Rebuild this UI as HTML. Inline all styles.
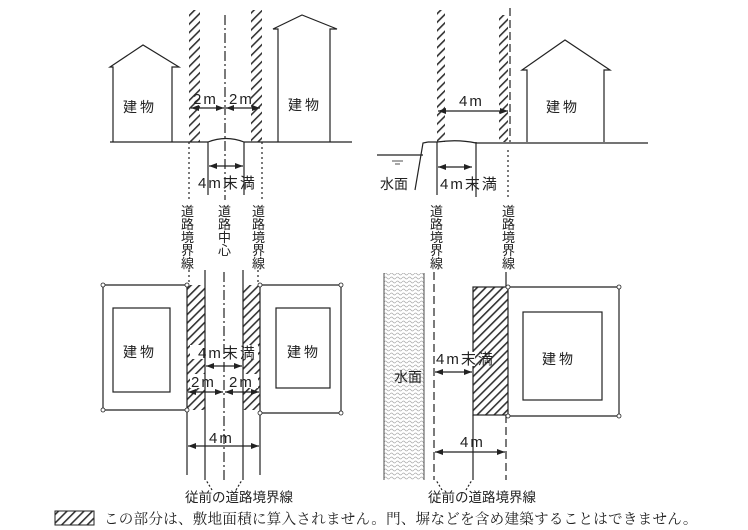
<!DOCTYPE html>
<html><head><meta charset="utf-8"><style>
html,body{margin:0;padding:0;background:#fff;}
svg{display:block;}
text{font-family:"Liberation Sans","Noto Sans CJK JP",sans-serif;fill:#222;}
.d{font-size:15px;letter-spacing:2px;}
</style></head><body>
<svg width="748" height="530" viewBox="0 0 748 530" xmlns="http://www.w3.org/2000/svg">
<defs>
<pattern id="h" patternUnits="userSpaceOnUse" width="6" height="6" patternTransform="rotate(45)">
<rect width="6" height="6" fill="#fff"/><rect width="1.6" height="6" fill="#333"/></pattern>
<pattern id="w" patternUnits="userSpaceOnUse" width="6" height="4">
<rect width="6" height="4" fill="#fff"/><path d="M0 2 Q1.5 0 3 2 T6 2" stroke="#aaa" stroke-width="0.7" fill="none"/></pattern>
<marker id="a" markerWidth="8" markerHeight="6" refX="8" refY="3" orient="auto-start-reverse" markerUnits="userSpaceOnUse"><path d="M0,0 L8,3 L0,6 z" fill="#222"/></marker>
</defs>
<g stroke="#222" stroke-width="1.2" fill="none">
<!-- TOP LEFT -->
<rect x="189" y="10" width="11" height="132" fill="url(#h)" stroke="none"/>
<rect x="251" y="10" width="11" height="132" fill="url(#h)" stroke="none"/>
<line x1="225" y1="15" x2="225" y2="200" stroke-dasharray="10,3,2,3"/>
<path d="M110 142 H208 Q226 135 244 142 H352"/>
<path d="M113 142 V67 H110 L143 45 L179 67 H172 V142"/>
<path d="M278 142 V29 H273 L302 15 L337 29 H330 V142"/>
<line x1="191" y1="108" x2="224" y2="108" marker-start="url(#a)" marker-end="url(#a)"/>
<line x1="226" y1="108" x2="260" y2="108" marker-start="url(#a)" marker-end="url(#a)"/>
<line x1="208" y1="142" x2="208" y2="195"/><line x1="244" y1="142" x2="244" y2="195"/>
<line x1="209" y1="166" x2="243" y2="166" marker-start="url(#a)" marker-end="url(#a)"/>
<line x1="189" y1="142" x2="189" y2="200" stroke-dasharray="2,3"/>
<line x1="262" y1="142" x2="262" y2="200" stroke-dasharray="2,3"/>
<!-- TOP RIGHT -->
<rect x="437" y="10" width="8" height="132" fill="url(#h)" stroke="none"/>
<rect x="499" y="15" width="9" height="127" fill="url(#h)" stroke="none"/>
<line x1="510" y1="8" x2="510" y2="142" stroke-dasharray="8,4"/>
<line x1="508" y1="150" x2="508" y2="200" stroke-dasharray="2,3"/>
<path d="M428 142 H437 Q458 139 476 143 H648"/>
<path d="M428 142 L423 143 L415 190"/>
<line x1="377" y1="155" x2="423" y2="155"/>
<line x1="392" y1="161" x2="403" y2="161" stroke-width="0.8"/><line x1="395" y1="164" x2="400" y2="164" stroke-width="0.8"/>
<line x1="437" y1="142" x2="437" y2="195"/><line x1="476" y1="142" x2="476" y2="197"/>
<line x1="438" y1="111" x2="508" y2="111" marker-start="url(#a)" marker-end="url(#a)"/>
<line x1="438" y1="167" x2="472" y2="167" marker-start="url(#a)" marker-end="url(#a)"/>
<path d="M527 142 V70 H522 L565 40 L610 70 H604 V142"/>
<!-- BOTTOM LEFT -->
<rect x="187" y="285" width="18" height="125" fill="url(#h)" stroke="none"/>
<rect x="243" y="285" width="17" height="125" fill="url(#h)" stroke="none"/>
<rect x="190" y="345" width="68" height="14" fill="#fff" stroke="none"/>
<rect x="190" y="374" width="68" height="14" fill="#fff" stroke="none"/>
<path d="M187 285 H103 V410 H187"/>
<rect x="113" y="308" width="57" height="84"/>
<path d="M260 285 H341 V413 H260"/>
<rect x="276" y="308" width="54" height="80"/>
<line x1="205" y1="270" x2="205" y2="480"/><line x1="243" y1="270" x2="243" y2="480"/>
<line x1="224" y1="272" x2="224" y2="480" stroke-dasharray="10,3,2,3"/>
<line x1="187" y1="285" x2="187" y2="475"/><line x1="260" y1="285" x2="260" y2="475"/>
<line x1="189" y1="270" x2="189" y2="283" stroke-dasharray="2,3"/><line x1="258" y1="270" x2="258" y2="283" stroke-dasharray="2,3"/>
<line x1="206" y1="366" x2="242" y2="366" marker-start="url(#a)" marker-end="url(#a)"/>
<line x1="188" y1="392" x2="223" y2="392" marker-start="url(#a)" marker-end="url(#a)"/>
<line x1="225" y1="392" x2="259" y2="392" marker-start="url(#a)" marker-end="url(#a)"/>
<line x1="188" y1="446" x2="259" y2="446" marker-start="url(#a)" marker-end="url(#a)"/>
<path d="M212 490 L206 480" stroke-dasharray="2,2"/><path d="M236 490 L242 480" stroke-dasharray="2,2"/>
<!-- BOTTOM RIGHT -->
<rect x="384" y="273" width="40" height="207" fill="url(#w)" stroke="none"/>
<line x1="384" y1="273" x2="384" y2="480" stroke-width="0.8"/><line x1="424" y1="273" x2="424" y2="480" stroke-width="0.8"/>
<line x1="434" y1="272" x2="434" y2="480" stroke-dasharray="8,4"/>
<rect x="473" y="287" width="35" height="128" fill="url(#h)"/>
<rect x="437" y="352" width="38" height="14" fill="#fff" stroke="none"/>
<path d="M508 287 H619 V416 H508"/>
<rect x="523" y="312" width="79" height="88"/>
<line x1="473" y1="415" x2="473" y2="480"/>
<line x1="506" y1="415" x2="506" y2="480" stroke-dasharray="8,4"/>
<line x1="506" y1="272" x2="506" y2="287"/>
<line x1="435" y1="372" x2="472" y2="372" marker-start="url(#a)" marker-end="url(#a)"/>
<line x1="435" y1="452" x2="505" y2="452" marker-start="url(#a)" marker-end="url(#a)"/>
<path d="M442 490 L436 480" stroke-dasharray="2,2"/><path d="M466 490 L472 480" stroke-dasharray="2,2"/>
</g>
<g fill="#fff" stroke="#222" stroke-width="0.8">
<circle cx="103" cy="285" r="2"/><circle cx="187" cy="285" r="2"/><circle cx="103" cy="410" r="2"/><circle cx="187" cy="410" r="2"/>
<circle cx="260" cy="285" r="2"/><circle cx="341" cy="285" r="2"/><circle cx="260" cy="413" r="2"/><circle cx="341" cy="413" r="2"/>
<circle cx="508" cy="287" r="2"/><circle cx="619" cy="287" r="2"/><circle cx="508" cy="416" r="2"/><circle cx="619" cy="416" r="2"/>
</g>
<g font-size="14">
<text x="123" y="112" letter-spacing="3">建物</text><text x="288" y="110" letter-spacing="3">建物</text>
<text x="193" y="104" class="d">2m</text><text x="229" y="104" class="d">2m</text>
<text x="198" y="188" class="d" letter-spacing="1">4m末満</text>
<text x="459" y="106" class="d">4m</text>
<text x="440" y="189" class="d" letter-spacing="1">4m末満</text>
<text x="380" y="189">水面</text>
<text x="546" y="112" letter-spacing="3">建物</text>
<text x="123" y="357" letter-spacing="3">建物</text><text x="287" y="357" letter-spacing="3">建物</text>
<text x="198" y="358" class="d" letter-spacing="1">4m末満</text>
<text x="191" y="387" class="d">2m</text><text x="229" y="387" class="d">2m</text>
<text x="209" y="443" class="d">4m</text>
<text x="394" y="382">水面</text>
<text x="436" y="364" class="d" letter-spacing="1">4m末満</text>
<text x="460" y="447" class="d">4m</text>
<text x="542" y="364" letter-spacing="3">建物</text>
<text x="185" y="502" font-size="13.5">従前の道路境界線</text>
<text x="428" y="502" font-size="13.5">従前の道路境界線</text>
</g>
<g font-size="13">
<text x="181" y="216">道</text><text x="181" y="229">路</text><text x="181" y="242">境</text><text x="181" y="255">界</text><text x="181" y="268">線</text>
<text x="218" y="216">道</text><text x="218" y="229">路</text><text x="218" y="242">中</text><text x="218" y="255">心</text>
<text x="252" y="216">道</text><text x="252" y="229">路</text><text x="252" y="242">境</text><text x="252" y="255">界</text><text x="252" y="268">線</text>
<text x="430" y="216">道</text><text x="430" y="229">路</text><text x="430" y="242">境</text><text x="430" y="255">界</text><text x="430" y="268">線</text>
<text x="502" y="216">道</text><text x="502" y="229">路</text><text x="502" y="242">境</text><text x="502" y="255">界</text><text x="502" y="268">線</text>
</g>
<rect x="55" y="511" width="39" height="14" fill="url(#h)" stroke="#222" stroke-width="1"/>
<text x="104" y="524" font-size="14.5" letter-spacing="0.3" style="font-family:'Noto Serif CJK SC','Noto Sans CJK JP',serif">この部分は、敷地面積に算入されません。門、塀などを含め建築することはできません。</text>
</svg>
</body></html>
